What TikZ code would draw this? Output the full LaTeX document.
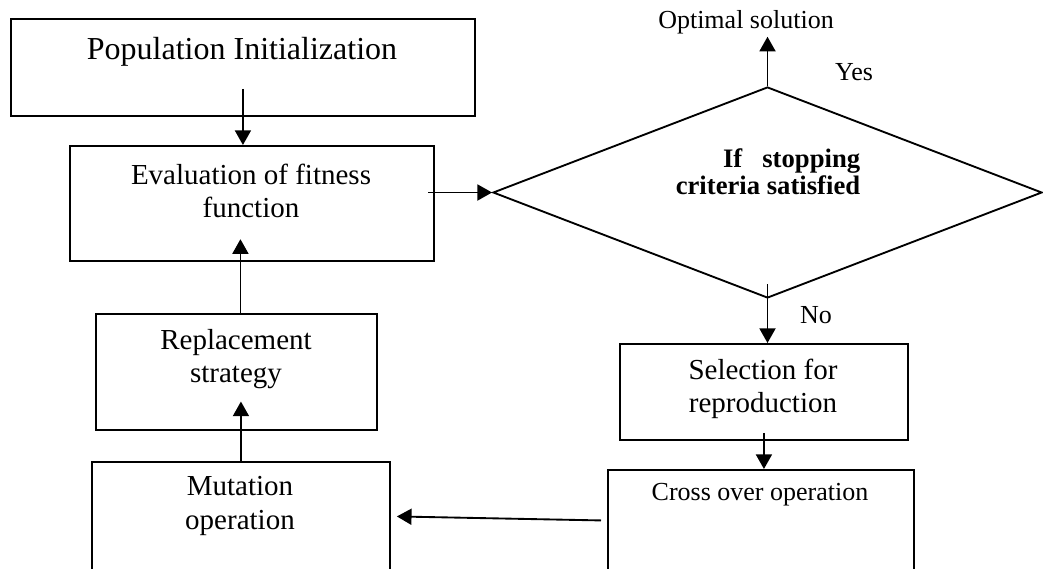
\documentclass[tikz,border=0pt]{standalone}
\usepackage{fontspec}
\setmainfont{Liberation Serif}
\usetikzlibrary{shapes.geometric,arrows.meta}

\newcommand{\pxl}{0.75pt}
\tikzstyle{box}=[draw=black, line width=1.4pt, inner sep=0pt, anchor=north west]
\tikzstyle{txt}=[align=center, inner sep=2pt, font=\fontsize{21.75}{25}\selectfont]
\tikzstyle{smalltxt}=[txt, font=\fontsize{19.5}{23}\selectfont]
\tikzstyle{arr}=[line width=1.4pt, -{Triangle[length=11pt,width=12pt]}]

\begin{document}
\begin{tikzpicture}[x=\pxl, y=-\pxl]
	\useasboundingbox (0,0) rectangle (1043,568);
	%boxes
	\node[box, minimum width=464*\pxl, minimum height=97*\pxl] (pop) at (10,18) {};
	\node[box, minimum width=364*\pxl, minimum height=115*\pxl] (eval) at (69,145) {};
	\node[box, minimum width=281*\pxl, minimum height=116*\pxl] (rep) at (95,313) {};
	\node[box, minimum width=298*\pxl, minimum height=109*\pxl] (mut) at (91,461) {};
	\node[box, minimum width=288*\pxl, minimum height=96*\pxl] (sel) at (619,343) {};
	\node[box, minimum width=306*\pxl, minimum height=101*\pxl] (cross) at (607,469) {};
	%decision
	\node[draw=black, line width=1.4pt, diamond, inner sep=0pt,
		minimum width=549*\pxl, minimum height=211*\pxl] (dec) at (767.5,192.5) {};
	%texts
	\node[txt, font=\fontsize{24}{28}\selectfont] (popt) at (242,52) {Population Initialization};
	\node[txt] (evalt) at (251,191) {Evaluation of fitness\\function};
	\node[txt] (rept) at (236,359) {Replacement\\strategy};
	\node[txt] (mutt) at (240,506) {Mutation\\operation};
	\node[txt] (selt) at (763,389) {Selection for\\reproduction};
	\node[smalltxt] (crosst) at (760,495) {Cross over operation};
	\node[smalltxt, align=right, font=\bfseries\fontsize{20}{20.25}\selectfont] (dect) at (768,171.5)
	{If\ \ \ stopping\\criteria satisfied};
	\node[smalltxt] (opt) at (746,22) {Optimal solution};
	\node[smalltxt] (yes) at (854,72) {Yes};
	\node[smalltxt] (no) at (816,315) {No};
	%arrows
	\draw[arr] ([yshift=21pt]pop.south) -- (pop.south |- eval.north);
	\draw[arr] ([xshift=-5pt]eval.east |- dec.west) -- (dec.west);
	\draw[arr] (dec.north) -- (dec.north |- opt.south);
	\draw[arr] ([yshift=11pt]dec.south) -- (dec.south |- sel.north);
	\draw[arr] ([yshift=6pt]sel.south) -- (sel.south |- cross.north);
	\draw[arr] ([xshift=-4.5pt]cross.west) -- ([xshift=4.5pt]mut.east);
	\draw[arr] (mut.north) -- ([yshift=22pt]mut.north |- rep.south);
	\draw[arr] ([xshift=3pt]rep.north) -- ([xshift=3pt, yshift=17pt]rep.north |- eval.south);
\end{tikzpicture}
\end{document}
